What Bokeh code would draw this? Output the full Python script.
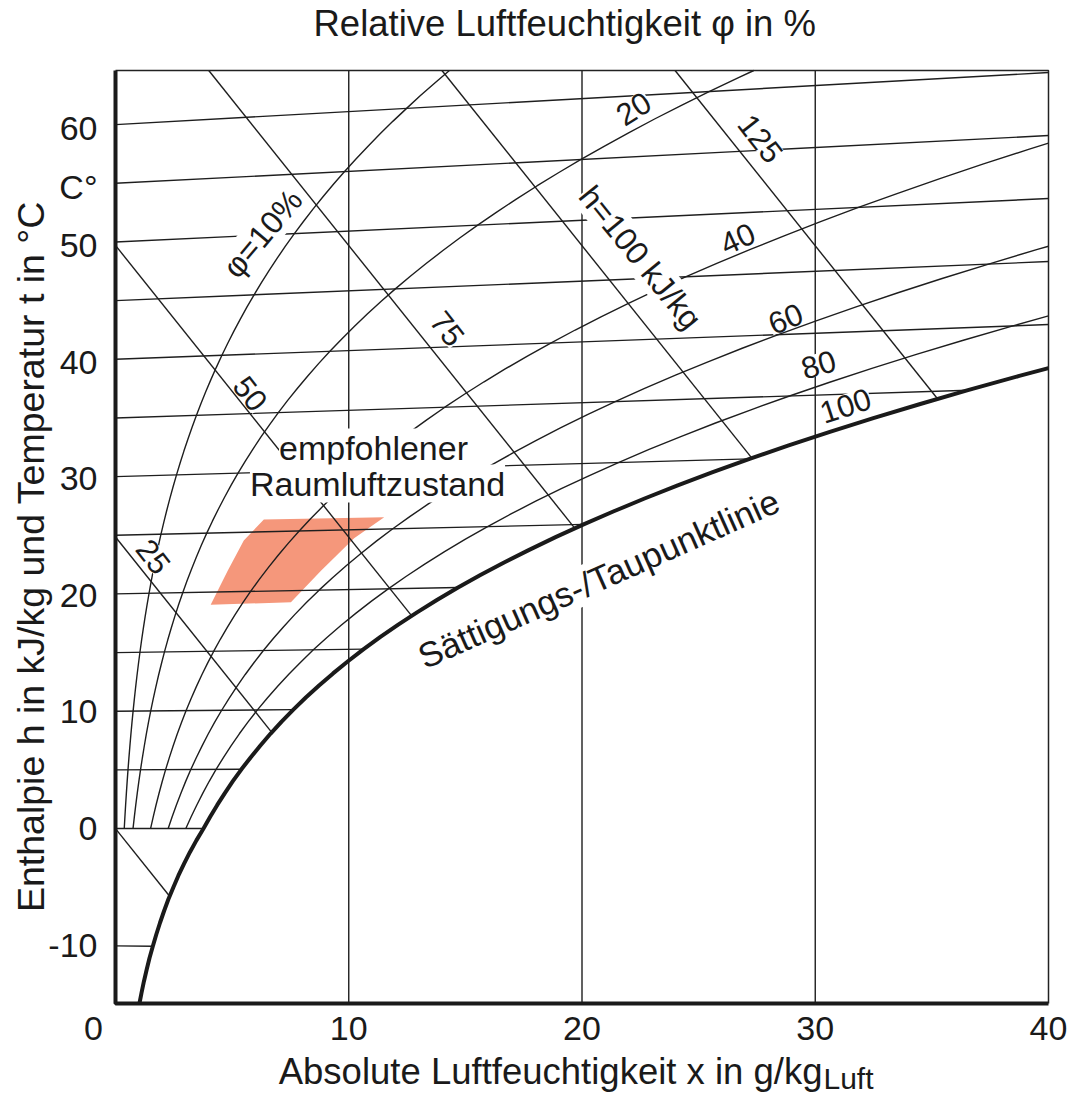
from bokeh.plotting import figure
from bokeh.models import Label, Range1d
from bokeh.embed import file_html
from bokeh.resources import INLINE

# ---------------- data ----------------
# saturation vapour pressure table (hPa), over ice below 0 degC
sat_t = list(range(-15, 66))
sat_ps = [1.65, 1.81, 1.98, 2.17, 2.37, 2.60, 2.84, 3.10, 3.38, 3.68, 4.02, 4.37, 4.76, 5.17, 5.62,
          6.11, 6.57, 7.06, 7.58, 8.13, 8.72, 9.35, 10.02, 10.72, 11.47,
          12.27, 13.12, 14.02, 14.97, 15.98, 17.04, 18.17, 19.37, 20.63, 21.96,
          23.37, 24.86, 26.43, 28.09, 29.83, 31.67, 33.61, 35.65, 37.80, 40.06,
          42.43, 44.93, 47.55, 50.30, 53.20, 56.23, 59.42, 62.76, 66.26, 69.93,
          73.78, 77.80, 82.02, 86.42, 91.03, 95.86, 100.9, 106.2, 111.7, 117.4,
          123.4, 129.7, 136.2, 143.0, 150.1, 157.5, 165.2, 173.2, 181.5, 190.2,
          199.3, 208.6, 218.4, 228.5, 239.1, 250.1]
rh_levels = [0.10, 0.20, 0.40, 0.60, 0.80]          # relative humidity curves
isotherms = [-10, 0, 5, 10, 15, 20, 25, 30, 35, 40, 45, 50, 55, 60]
isenthalps = [0, 25, 50, 75, 100, 125]              # kJ/kg
x_grid = [10, 20, 30]
y_ticks = [60, 55, 50, 40, 30, 20, 10, 0, -10]
y_tick_labels = ["60", "C°", "50", "40", "30", "20", "10", "0", "-10"]
x_ticks = [0, 10, 20, 30, 40]
x_tick_labels = ["0", "10", "20", "30", "40"]
# recommended room air state: x in g/kg, display value
comfort_x = [6.36, 11.52, 10.23, 8.81, 7.52, 4.08, 4.81, 5.50]
comfort_y = [26.5, 26.7, 24.9, 22.1, 19.4, 19.2, 22.1, 24.7]

P_HPA = 1013.25
X0, X1, Y0, Y1 = 0, 40, -15, 65          # chart area (x in g/kg, display value)

# page geometry of the chart area
CW, CH = 1075, 1096
PX_L, PX_R, PY_T, PY_B = 115, 1048, 70, 1003
SX = (PX_R - PX_L) / (X1 - X0)
SY = (PY_B - PY_T) / (Y1 - Y0)


def x_abs(phi, ps):
    return 622.0 * phi * ps / (P_HPA - phi * ps)


def y_disp(t, x):
    # Mollier oblique coordinate: h - 2.501 x
    return 1.006 * t + 0.00186 * t * x


def clip_seg(ax, ay, bx, by):
    t0, t1 = 0.0, 1.0
    dx, dy = bx - ax, by - ay
    for pp, q in ((-dx, ax - X0), (dx, X1 - ax), (-dy, ay - Y0), (dy, Y1 - ay)):
        if pp == 0:
            if q < 0:
                return None
        else:
            r = q / pp
            if pp < 0:
                t0 = max(t0, r)
            else:
                t1 = min(t1, r)
    if t0 > t1:
        return None
    return (ax + t0 * dx, ay + t0 * dy, ax + t1 * dx, ay + t1 * dy)


def clip_poly(xs, ys):
    ox, oy = [], []
    for i in range(len(xs) - 1):
        s = clip_seg(xs[i], ys[i], xs[i + 1], ys[i + 1])
        if s is None:
            continue
        if not ox:
            ox.append(s[0]); oy.append(s[1])
        ox.append(s[2]); oy.append(s[3])
    return ox, oy


def to_data(px, py):
    return X0 + (px - PX_L) / SX, Y1 - (py - PY_T) / SY


FONT = "Liberation Sans"
TC = "#1a1a1a"
LC = "#1e1e1e"
LW = 1.4

xa, ya = to_data(0, CH)
xb, yb = to_data(CW, 0)
p = figure(frame_width=CW, frame_height=CH, x_range=Range1d(xa, xb), y_range=Range1d(ya, yb),
           output_backend="svg", toolbar_location=None, title=None,
           x_axis_type=None, y_axis_type=None,
           min_border_left=0, min_border_right=0, min_border_top=0, min_border_bottom=0)
p.grid.visible = False
p.outline_line_color = None

# comfort zone
p.patch(comfort_x, comfort_y, fill_color="#F5977B", line_color=None)

# vertical grid lines
for gx in x_grid:
    p.line([gx, gx], [Y0, Y1], line_color=LC, line_width=LW)

# saturation curve
sat_x = [x_abs(1.0, ps) for ps in sat_ps]
sat_y = [y_disp(t, x) for t, x in zip(sat_t, sat_x)]
sat_lookup = dict(zip(sat_t, sat_x))

# isotherms
iso_xs, iso_ys = [], []
for t in isotherms:
    xe = min(sat_lookup[t], X1)
    cx, cy = clip_poly([0, xe], [y_disp(t, 0), y_disp(t, xe)])
    iso_xs.append(cx)
    iso_ys.append(cy)
p.multi_line(iso_xs, iso_ys, line_color=LC, line_width=LW)

# relative humidity curves (from 0 degC upward)
rh_xs, rh_ys = [], []
for phi in rh_levels:
    xs, ys = [], []
    for t, ps in zip(sat_t, sat_ps):
        if t < 0:
            continue
        x = x_abs(phi, ps)
        xs.append(x)
        ys.append(y_disp(t, x))
    cx, cy = clip_poly(xs, ys)
    rh_xs.append(cx)
    rh_ys.append(cy)
p.multi_line(rh_xs, rh_ys, line_color=LC, line_width=LW)

# isenthalps: Y = h - 2.501 x, from the left edge to the saturation curve
h_xs, h_ys = [], []
for h in isenthalps:
    xe = None
    for i in range(len(sat_x) - 1):
        f0 = sat_y[i] + 2.501 * sat_x[i] - h
        f1 = sat_y[i + 1] + 2.501 * sat_x[i + 1] - h
        if f0 <= 0 <= f1:
            a = -f0 / (f1 - f0) if f1 != f0 else 0
            xe = sat_x[i] + a * (sat_x[i + 1] - sat_x[i])
            break
    cx, cy = clip_poly([0, xe], [h, h - 2.501 * xe])
    h_xs.append(cx)
    h_ys.append(cy)
p.multi_line(h_xs, h_ys, line_color=LC, line_width=LW)

# chart box: thin top/right, heavy left/bottom axes
p.line([X0, X1, X1], [Y1, Y1, Y0], line_color="#222222", line_width=1.5)
ax_r = p.line([X0, X0, X1], [Y1, Y0, Y0], line_color=TC, line_width=4)
ax_r.level = "overlay"

sx, sy = clip_poly(sat_x, sat_y)
sat_r = p.line(sx, sy, line_color=TC, line_width=4)
sat_r.level = "overlay"


def lab(text, px, py, angle=0, size=32, bg=True, align="center"):
    x, y = to_data(px, py)
    p.add_layout(Label(x=x, y=y, text=text, angle=angle, angle_units="deg",
                       text_align=align, text_baseline="middle", text_font=FONT,
                       text_font_size=f"{size}px", text_color=TC,
                       background_fill_color="white" if bg else None))


# in-chart labels
lab("φ=10%", 262, 233, angle=50, size=32)
lab("20", 633, 108, angle=32, size=31)
lab("40", 737, 238, angle=25, size=31)
lab("60", 785, 318, angle=22, size=31)
lab("80", 818, 364, angle=16, size=31)
lab("100", 845, 405, angle=18, size=31)
lab("125", 760, 138, angle=-52, size=31)
lab("h=100 kJ/kg", 640, 257, angle=-51, size=32)
lab("75", 447, 328, angle=-52, size=31)
lab("50", 250, 393, angle=-52, size=31)
lab("25", 153, 556, angle=-52, size=31)
lab("empfohlener", 373, 447, size=34)
lab("Raumluftzustand", 377, 483, size=34)
lab("Sättigungs-/Taupunktlinie", 598, 578, angle=24, size=35)

# tick labels
tick_x, _ = to_data(97, 0)
for v, t in zip(y_ticks, y_tick_labels):
    p.add_layout(Label(x=tick_x, y=v, text=t, text_align="right", text_baseline="middle",
                       text_font=FONT, text_font_size="34px", text_color=TC))
_, tick_y = to_data(0, 1028)
for v, t in zip(x_ticks, x_tick_labels):
    p.add_layout(Label(x=v, y=tick_y, text=t, text_align="center", text_baseline="middle",
                       x_offset=(-22 if v == X0 else 0),
                       text_font=FONT, text_font_size="34px", text_color=TC))

# titles (vertical centres chosen so that baselines sit as in the reference)
lab("Relative Luftfeuchtigkeit φ in %", 313, 23, size=36.5, bg=False, align="left")
lab("Enthalpie h in kJ/kg und Temperatur t in °C", 30, 556, angle=90, size=37.5, bg=False)
lab("Absolute Luftfeuchtigkeit x in g/kg", 822, 1071, size=36.5, bg=False, align="right")
lab("Luft", 823, 1078, size=30, bg=False, align="left")

open("out.html", "w").write(file_html(p, INLINE))
